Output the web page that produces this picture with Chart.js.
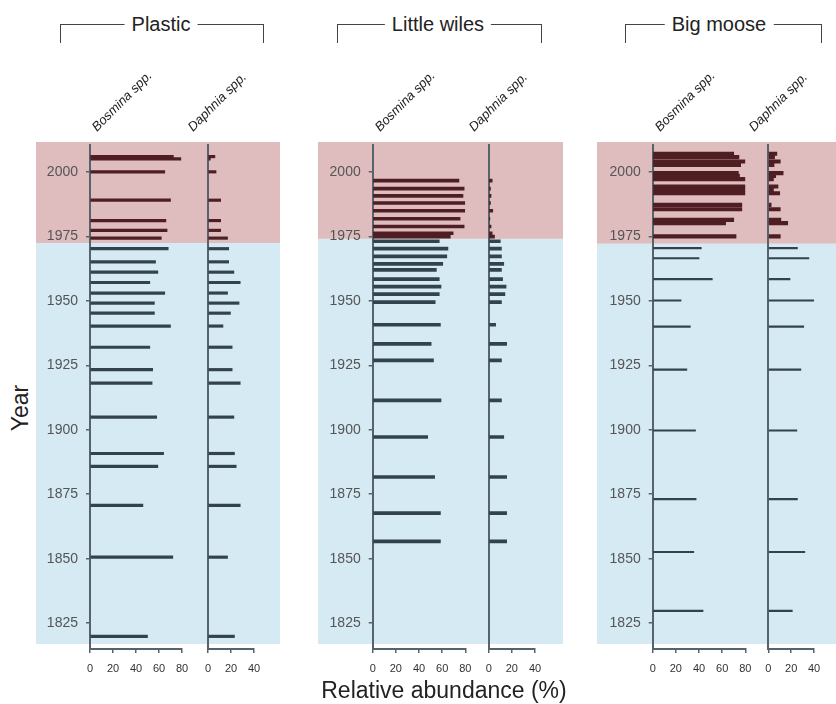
<!DOCTYPE html>
<html>
<head>
<meta charset="utf-8">
<script src="https://cdn.jsdelivr.net/npm/chart.js@4.4.0/dist/chart.umd.min.js"></script>
<style>
  body { margin: 0; background: #fff; }
  #wrap { position: relative; width: 836px; height: 704px; overflow: hidden; font-family: 'Liberation Sans', Arial, sans-serif; color: #222; }
  canvas { position: absolute; top: 0; }
  .title { position: absolute; top: 12px; font-size: 20px; line-height: 24px; background: #fff; padding: 0 7px; transform: translateX(-50%); white-space: nowrap; }
  .bracket { position: absolute; top: 24px; height: 18px; border-top: 1px solid #444; border-left: 1px solid #444; border-right: 1px solid #444; }
  .species { position: absolute; font-size: 13px; font-style: italic; line-height: 14px; white-space: nowrap; transform-origin: 0 100%; transform: rotate(-45deg); }
  .axtitle { position: absolute; font-size: 23px; white-space: nowrap; }
</style>
</head>
<body>
<div id="wrap">
  <canvas id="c1" width="244" height="704" style="left:36px"></canvas>
  <canvas id="c2" width="244" height="704" style="left:36px"></canvas>
  <canvas id="c3" width="245" height="704" style="left:318px"></canvas>
  <canvas id="c4" width="245" height="704" style="left:318px"></canvas>
  <canvas id="c5" width="239" height="704" style="left:597px"></canvas>
  <canvas id="c6" width="239" height="704" style="left:597px"></canvas>

  <div class="bracket" style="left:60px;width:202px"></div>
  <div class="title" style="left:161px">Plastic</div>
  <div class="bracket" style="left:337px;width:203px"></div>
  <div class="title" style="left:438px">Little wiles</div>
  <div class="bracket" style="left:625px;width:195px"></div>
  <div class="title" style="left:719px">Big moose</div>

  <div class="species" style="left:99px;top:120px">Bosmina spp.</div>
  <div class="species" style="left:195px;top:120px">Daphnia spp.</div>
  <div class="species" style="left:382px;top:120px">Bosmina spp.</div>
  <div class="species" style="left:476px;top:120px">Daphnia spp.</div>
  <div class="species" style="left:662px;top:120px">Bosmina spp.</div>
  <div class="species" style="left:756px;top:120px">Daphnia spp.</div>

  <div class="axtitle" style="left:20px;top:408px;transform:translate(-50%,-50%) rotate(-90deg)">Year</div>
  <div class="axtitle" style="left:444px;top:690px;transform:translate(-50%,-50%)">Relative abundance (%)</div>
</div>
<script>
// tick labels
const yearTicks = [1825, 1850, 1875, 1900, 1925, 1950, 1975, 2000];
const bosminaTicks = [0, 20, 40, 60, 80];
const daphniaTicks = [0, 20, 40];

// Plastic
const plasticYears = [2005.9, 2005, 2000, 1989, 1981.1, 1977.3, 1974.3, 1970.2, 1965.1, 1961.1, 1957.1, 1953, 1949.1, 1945.2, 1940.2, 1932, 1923.3, 1918.1, 1904.9, 1890.8, 1885.8, 1870.7, 1850.6, 1819.9];
const plasticBosmina = [72.5, 79, 65, 70, 66, 67, 62, 68, 57, 59, 52, 65, 56, 56, 70, 52, 54.5, 54, 58, 64, 59, 46, 72, 50];
const plasticDaphnia = [6, 2, 7, 11, 11, 11, 17, 18, 18, 22.5, 28, 17, 27, 19.5, 13, 21, 21, 28, 22.5, 23, 24.5, 28, 17, 23];

// Little wiles
const wilesYears = [1996.6, 1993.5, 1990.7, 1987.9, 1984.9, 1981.8, 1978.8, 1976.2, 1974.9, 1973.1, 1970.2, 1967.2, 1964.3, 1962, 1958.4, 1955.5, 1952.6, 1949.5, 1940.7, 1933.3, 1926.9, 1911.4, 1897.2, 1881.7, 1867.7, 1856.7];
const wilesBosmina = [74.5, 79, 78, 79.7, 79.7, 75.5, 79, 69.5, 67, 57.5, 65, 64, 60.5, 55, 57.5, 59, 57.5, 54, 58.5, 50.5, 52.5, 59, 47.5, 53.5, 58.5, 58.5];
const wilesDaphnia = [3, 1.5, 2, 1.5, 3.5, 1, 2, 3, 5, 10, 11, 11, 13, 11, 12, 15, 14, 11, 6, 15.5, 11, 11, 13, 15.5, 15.5, 15.5];

// Big moose
const mooseYears = [2007, 2005.7, 2004, 2002.7, 1999.5, 1998.4, 1997.2, 1994.3, 1993, 1991.7, 1987.2, 1985.5, 1981.4, 1980.1, 1975, 1970.4, 1966.5, 1958.4, 1950.1, 1940, 1923.3, 1899.7, 1873.1, 1852.6, 1829.8];
const mooseBosmina = [70, 74.5, 80, 76, 74, 75, 80, 80, 80, 80, 77, 77, 70, 63, 72, 42, 40, 51.5, 24.5, 32.5, 29.5, 37, 37.5, 35.5, 43.5];
const mooseDaphnia = [7.5, 5.5, 10.5, 5, 13, 6.5, 4.5, 8.5, 4.5, 10, 2.5, 10.5, 11, 17, 10.5, 25.5, 35.5, 19, 40, 31, 28.5, 25, 25.5, 32, 21];

// year where the shading changes from blue to pink
const plasticSplit = 1972.4;
const wilesSplit = 1974;
const mooseSplit = 1972.1;

const yearMin = 1815, yearMax = 2010.4;
const axisColor = '#56636c';
const pinkBg = '#dfbdbe', blueBg = '#d5eaf3';
const pinkBar = '#4e1e23', blueBar = '#33434d';

// draws the pink / blue panel background
const panelBg = {
    id: 'panelBg',
    beforeDraw(chart, args, opts) {
        if (!opts.split) return;
        const { ctx, chartArea, width } = chart;
        const ys = chart.scales.y.getPixelForValue(opts.split);
        const top = chartArea.top - 3, bottom = chartArea.bottom - 5;
        ctx.save();
        ctx.fillStyle = pinkBg;
        ctx.fillRect(0, top, width, ys - top);
        ctx.fillStyle = blueBg;
        ctx.fillRect(0, ys, width, bottom - ys);
        ctx.restore();
    }
};

function makeChart(id, years, values, o) {
    const pts = years.map((y, i) => ({ x: values[i], y: y }));
    return new Chart(document.getElementById(id), {
        type: 'bar',
        data: {
            datasets: [
                { data: pts.filter(p => p.y >= o.split), backgroundColor: pinkBar, barThickness: o.thickPink, grouped: false },
                { data: pts.filter(p => p.y < o.split), backgroundColor: blueBar, barThickness: o.thickBlue, grouped: false }
            ]
        },
        options: {
            indexAxis: 'y',
            responsive: false,
            animation: false,
            layout: { padding: { top: 145, right: o.padRight, bottom: 0, left: 0 } },
            plugins: { legend: { display: false }, tooltip: { enabled: false }, panelBg: { split: o.showYears ? o.split : null } },
            scales: {
                x: {
                    type: 'linear', min: 0, max: o.ticks[o.ticks.length - 1], offset: false,
                    afterBuildTicks: s => { s.ticks = o.ticks.map(v => ({ value: v })); },
                    afterFit: s => { s.height = 55; },
                    ticks: { font: { size: 11, family: 'Liberation Sans' }, color: '#333', padding: 9, maxRotation: 0, autoSkip: false },
                    grid: { offset: false, drawOnChartArea: false, tickLength: 4, color: axisColor, lineWidth: 1.5 },
                    border: { color: axisColor, width: 2 }
                },
                y: {
                    type: 'linear', min: yearMin, max: yearMax, offset: false,
                    afterBuildTicks: s => { s.ticks = yearTicks.map(v => ({ value: v })); },
                    afterFit: s => { s.width = o.axisLeft; },
                    ticks: { display: o.showYears, callback: v => String(v), font: { size: 14, family: 'Liberation Sans' }, color: '#555', padding: 8 },
                    grid: { display: o.showYears, offset: false, drawOnChartArea: false, tickLength: 4, color: axisColor, lineWidth: 1.5 },
                    border: { color: axisColor, width: 2 }
                }
            }
        },
        plugins: [panelBg]
    });
}

// Plastic (canvas x 36..280)
makeChart('c1', plasticYears, plasticBosmina, { split: plasticSplit, ticks: bosminaTicks, axisLeft: 54, padRight: 98, showYears: true, thickPink: 2.5, thickBlue: 2.5 });
makeChart('c2', plasticYears, plasticDaphnia, { split: plasticSplit, ticks: daphniaTicks, axisLeft: 172, padRight: 26, showYears: false, thickPink: 2.5, thickBlue: 2.5 });
// Little wiles (canvas x 318..563)
makeChart('c3', wilesYears, wilesBosmina, { split: wilesSplit, ticks: bosminaTicks, axisLeft: 54.7, padRight: 97.7, showYears: true, thickPink: 3, thickBlue: 3 });
makeChart('c4', wilesYears, wilesDaphnia, { split: wilesSplit, ticks: daphniaTicks, axisLeft: 170.7, padRight: 28, showYears: false, thickPink: 3, thickBlue: 3 });
// Big moose (canvas x 597..836)
makeChart('c5', mooseYears, mooseBosmina, { split: mooseSplit, ticks: bosminaTicks, axisLeft: 55.7, padRight: 90.7, showYears: true, thickPink: 3.5, thickBlue: 1.5 });
makeChart('c6', mooseYears, mooseDaphnia, { split: mooseSplit, ticks: daphniaTicks, axisLeft: 171.3, padRight: 22, showYears: false, thickPink: 3.5, thickBlue: 1.5 });
</script>
</body>
</html>
